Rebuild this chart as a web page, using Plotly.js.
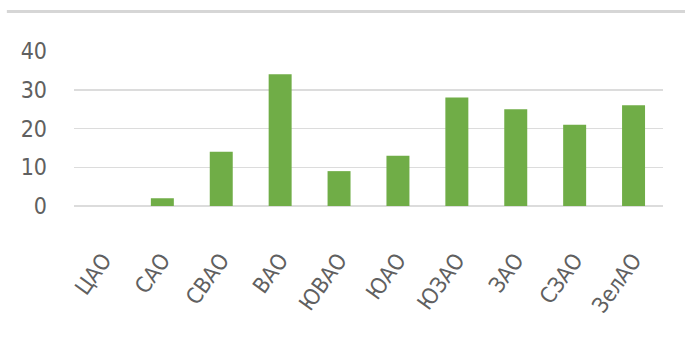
<!DOCTYPE html>
<html><head><meta charset="utf-8">
<script src="https://cdn.plot.ly/plotly-3.0.1.min.js"></script>
<style>html,body{margin:0;padding:0;background:#fff}</style>
</head><body>
<div id="chart" style="width:685px;height:340px"></div>
<script>
const categories = ["ЦАО","САО","СВАО","ВАО","ЮВАО","ЮАО","ЮЗАО","ЗАО","СЗАО","ЗелАО"];
const values = [0, 2, 14, 34, 9, 13, 28, 25, 21, 26];
const yTicks = [0, 10, 20, 30, 40];
const FONT = '"DejaVu Sans Condensed", "Liberation Sans Narrow", "Liberation Sans", sans-serif';

Plotly.newPlot('chart', [{
  type: 'bar', x: categories, y: values,
  marker: {color: '#70AD47', line: {width: 0}},
  hoverinfo: 'none'
}], {
  width: 685, height: 340,
  margin: {l: 74, r: 22, t: 51, b: 134},
  paper_bgcolor: '#fff', plot_bgcolor: '#fff',
  bargap: 0.61,
  showlegend: false,
  xaxis: {
    tickangle: -54,
    tickfont: {family: FONT, size: 22, color: '#606060'},
    showgrid: false, zeroline: false, showline: false, ticks: '',
    ticklabelstandoff: 36
  },
  yaxis: {
    range: [0, 40], tickvals: yTicks, ticktext: yTicks.map(String),
    tickfont: {family: FONT, size: 23, color: '#606060'},
    showgrid: true, gridcolor: '#dcdcdc', gridwidth: 1.5,
    zeroline: true, zerolinecolor: '#dcdcdc', zerolinewidth: 1.5,
    showline: false, ticks: '', ticklabelstandoff: 26
  },
  shapes: [{type: 'line', xref: 'paper', yref: 'paper',
    x0: -0.114, x1: 1.05, y0: 1.255, y1: 1.255,
    line: {color: '#d6d6d6', width: 3}}]
}, {displayModeBar: false, staticPlot: true});
</script>
</body></html>
